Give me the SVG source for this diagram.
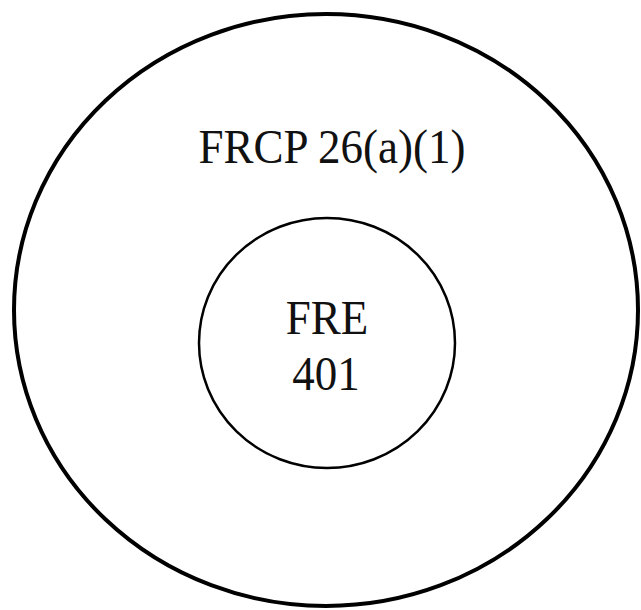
<svg xmlns="http://www.w3.org/2000/svg" width="641" height="610" viewBox="0 0 641 610">
<style>
.ring{fill:none;stroke:#000}
.lbl{font-family:"Liberation Serif","Times New Roman",serif;font-size:45px;fill:#111;text-anchor:middle}
</style>
<rect width="641" height="610" fill="#fff"/>
<g id="frcp">
<ellipse class="ring" cx="326" cy="310" rx="312" ry="296" stroke-width="4"/>
<text class="lbl" transform="translate(332,163) scale(1,1.1)">FRCP 26(a)(1)</text>
</g>
<g id="fre">
<ellipse class="ring" cx="327" cy="343" rx="128" ry="125" stroke-width="2.5"/>
<text class="lbl" transform="translate(327,334) scale(1,1.08)">FRE</text>
<text class="lbl" transform="translate(326,390) scale(1,1.08)">401</text>
</g>
<g id="connectors"></g>
</svg>
